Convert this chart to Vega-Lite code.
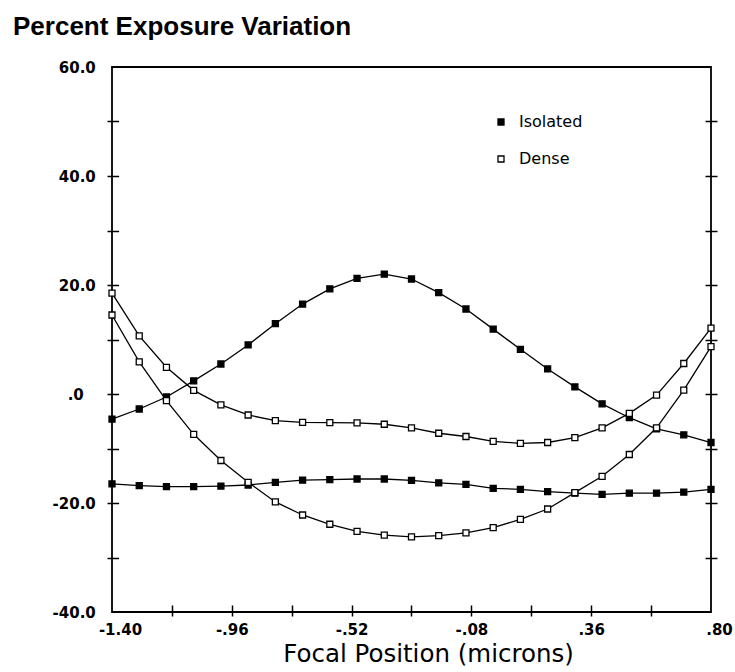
{
  "$schema": "https://vega.github.io/schema/vega-lite/v6.json",
  "width": 599,
  "height": 545,
  "autosize": {"type": "none"},
  "padding": {"left": 112, "top": 67, "right": 24, "bottom": 60},
  "background": "white",
  "title": {
    "text": "Percent Exposure Variation",
    "anchor": "start",
    "frame": "group",
    "dx": -99,
    "dy": 29,
    "offset": 28,
    "font": "Liberation Sans",
    "fontSize": 26,
    "fontWeight": "bold",
    "color": "black",
    "baseline": "alphabetic"
  },
  "config": {
    "view": {"stroke": "black", "strokeWidth": 1.8},
    "axis": {
      "domain": false,
      "grid": false,
      "tickColor": "black",
      "tickWidth": 1.5,
      "labelColor": "black",
      "labelFont": "DejaVu Sans",
      "labelFontSize": 15,
      "labelFontWeight": "bold",
      "titleColor": "black"
    }
  },
  "data": {
    "values": [
      {"x": -1.4, "y": -4.6, "series": "Isolated 1", "type": "Isolated"},
      {"x": -1.3, "y": -2.75, "series": "Isolated 1", "type": "Isolated"},
      {"x": -1.2, "y": -0.55, "series": "Isolated 1", "type": "Isolated"},
      {"x": -1.1, "y": 2.4, "series": "Isolated 1", "type": "Isolated"},
      {"x": -1.0, "y": 5.5, "series": "Isolated 1", "type": "Isolated"},
      {"x": -0.9, "y": 9.0, "series": "Isolated 1", "type": "Isolated"},
      {"x": -0.8, "y": 12.9, "series": "Isolated 1", "type": "Isolated"},
      {"x": -0.7, "y": 16.5, "series": "Isolated 1", "type": "Isolated"},
      {"x": -0.6, "y": 19.3, "series": "Isolated 1", "type": "Isolated"},
      {"x": -0.5, "y": 21.2, "series": "Isolated 1", "type": "Isolated"},
      {"x": -0.4, "y": 22.0, "series": "Isolated 1", "type": "Isolated"},
      {"x": -0.3, "y": 21.1, "series": "Isolated 1", "type": "Isolated"},
      {"x": -0.2, "y": 18.6, "series": "Isolated 1", "type": "Isolated"},
      {"x": -0.1, "y": 15.6, "series": "Isolated 1", "type": "Isolated"},
      {"x": 0.0, "y": 11.9, "series": "Isolated 1", "type": "Isolated"},
      {"x": 0.1, "y": 8.2, "series": "Isolated 1", "type": "Isolated"},
      {"x": 0.2, "y": 4.6, "series": "Isolated 1", "type": "Isolated"},
      {"x": 0.3, "y": 1.3, "series": "Isolated 1", "type": "Isolated"},
      {"x": 0.4, "y": -1.8, "series": "Isolated 1", "type": "Isolated"},
      {"x": 0.5, "y": -4.35, "series": "Isolated 1", "type": "Isolated"},
      {"x": 0.6, "y": -6.4, "series": "Isolated 1", "type": "Isolated"},
      {"x": 0.7, "y": -7.5, "series": "Isolated 1", "type": "Isolated"},
      {"x": 0.8, "y": -8.9, "series": "Isolated 1", "type": "Isolated"},
      {"x": -1.4, "y": -16.5, "series": "Isolated 2", "type": "Isolated"},
      {"x": -1.3, "y": -16.8, "series": "Isolated 2", "type": "Isolated"},
      {"x": -1.2, "y": -17.0, "series": "Isolated 2", "type": "Isolated"},
      {"x": -1.1, "y": -17.0, "series": "Isolated 2", "type": "Isolated"},
      {"x": -1.0, "y": -16.9, "series": "Isolated 2", "type": "Isolated"},
      {"x": -0.9, "y": -16.7, "series": "Isolated 2", "type": "Isolated"},
      {"x": -0.8, "y": -16.2, "series": "Isolated 2", "type": "Isolated"},
      {"x": -0.7, "y": -15.8, "series": "Isolated 2", "type": "Isolated"},
      {"x": -0.6, "y": -15.7, "series": "Isolated 2", "type": "Isolated"},
      {"x": -0.5, "y": -15.6, "series": "Isolated 2", "type": "Isolated"},
      {"x": -0.4, "y": -15.6, "series": "Isolated 2", "type": "Isolated"},
      {"x": -0.3, "y": -15.85, "series": "Isolated 2", "type": "Isolated"},
      {"x": -0.2, "y": -16.3, "series": "Isolated 2", "type": "Isolated"},
      {"x": -0.1, "y": -16.6, "series": "Isolated 2", "type": "Isolated"},
      {"x": 0.0, "y": -17.3, "series": "Isolated 2", "type": "Isolated"},
      {"x": 0.1, "y": -17.5, "series": "Isolated 2", "type": "Isolated"},
      {"x": 0.2, "y": -17.9, "series": "Isolated 2", "type": "Isolated"},
      {"x": 0.3, "y": -18.2, "series": "Isolated 2", "type": "Isolated"},
      {"x": 0.4, "y": -18.4, "series": "Isolated 2", "type": "Isolated"},
      {"x": 0.5, "y": -18.2, "series": "Isolated 2", "type": "Isolated"},
      {"x": 0.6, "y": -18.2, "series": "Isolated 2", "type": "Isolated"},
      {"x": 0.7, "y": -18.0, "series": "Isolated 2", "type": "Isolated"},
      {"x": 0.8, "y": -17.5, "series": "Isolated 2", "type": "Isolated"},
      {"x": -1.4, "y": 18.5, "series": "Dense 1", "type": "Dense"},
      {"x": -1.3, "y": 10.65, "series": "Dense 1", "type": "Dense"},
      {"x": -1.2, "y": 4.9, "series": "Dense 1", "type": "Dense"},
      {"x": -1.1, "y": 0.67, "series": "Dense 1", "type": "Dense"},
      {"x": -1.0, "y": -2.0, "series": "Dense 1", "type": "Dense"},
      {"x": -0.9, "y": -3.85, "series": "Dense 1", "type": "Dense"},
      {"x": -0.8, "y": -4.9, "series": "Dense 1", "type": "Dense"},
      {"x": -0.7, "y": -5.2, "series": "Dense 1", "type": "Dense"},
      {"x": -0.6, "y": -5.25, "series": "Dense 1", "type": "Dense"},
      {"x": -0.5, "y": -5.3, "series": "Dense 1", "type": "Dense"},
      {"x": -0.4, "y": -5.55, "series": "Dense 1", "type": "Dense"},
      {"x": -0.3, "y": -6.2, "series": "Dense 1", "type": "Dense"},
      {"x": -0.2, "y": -7.2, "series": "Dense 1", "type": "Dense"},
      {"x": -0.1, "y": -7.8, "series": "Dense 1", "type": "Dense"},
      {"x": 0.0, "y": -8.7, "series": "Dense 1", "type": "Dense"},
      {"x": 0.1, "y": -9.05, "series": "Dense 1", "type": "Dense"},
      {"x": 0.2, "y": -8.9, "series": "Dense 1", "type": "Dense"},
      {"x": 0.3, "y": -8.0, "series": "Dense 1", "type": "Dense"},
      {"x": 0.4, "y": -6.2, "series": "Dense 1", "type": "Dense"},
      {"x": 0.5, "y": -3.55, "series": "Dense 1", "type": "Dense"},
      {"x": 0.6, "y": -0.2, "series": "Dense 1", "type": "Dense"},
      {"x": 0.7, "y": 5.6, "series": "Dense 1", "type": "Dense"},
      {"x": 0.8, "y": 12.1, "series": "Dense 1", "type": "Dense"},
      {"x": -1.4, "y": 14.5, "series": "Dense 2", "type": "Dense"},
      {"x": -1.3, "y": 5.9, "series": "Dense 2", "type": "Dense"},
      {"x": -1.2, "y": -1.2, "series": "Dense 2", "type": "Dense"},
      {"x": -1.1, "y": -7.4, "series": "Dense 2", "type": "Dense"},
      {"x": -1.0, "y": -12.2, "series": "Dense 2", "type": "Dense"},
      {"x": -0.9, "y": -16.2, "series": "Dense 2", "type": "Dense"},
      {"x": -0.8, "y": -19.8, "series": "Dense 2", "type": "Dense"},
      {"x": -0.7, "y": -22.2, "series": "Dense 2", "type": "Dense"},
      {"x": -0.6, "y": -23.9, "series": "Dense 2", "type": "Dense"},
      {"x": -0.5, "y": -25.2, "series": "Dense 2", "type": "Dense"},
      {"x": -0.4, "y": -25.9, "series": "Dense 2", "type": "Dense"},
      {"x": -0.3, "y": -26.2, "series": "Dense 2", "type": "Dense"},
      {"x": -0.2, "y": -26.0, "series": "Dense 2", "type": "Dense"},
      {"x": -0.1, "y": -25.5, "series": "Dense 2", "type": "Dense"},
      {"x": 0.0, "y": -24.5, "series": "Dense 2", "type": "Dense"},
      {"x": 0.1, "y": -23.0, "series": "Dense 2", "type": "Dense"},
      {"x": 0.2, "y": -21.1, "series": "Dense 2", "type": "Dense"},
      {"x": 0.3, "y": -18.1, "series": "Dense 2", "type": "Dense"},
      {"x": 0.4, "y": -15.1, "series": "Dense 2", "type": "Dense"},
      {"x": 0.5, "y": -11.1, "series": "Dense 2", "type": "Dense"},
      {"x": 0.6, "y": -6.2, "series": "Dense 2", "type": "Dense"},
      {"x": 0.7, "y": 0.7, "series": "Dense 2", "type": "Dense"},
      {"x": 0.8, "y": 8.7, "series": "Dense 2", "type": "Dense"}
    ]
  },
  "encoding": {
    "x": {
      "field": "x",
      "type": "quantitative",
      "scale": {"domain": [-1.4, 0.8], "nice": false, "zero": false},
      "axis": {
        "orient": "bottom",
        "values": [-1.4, -1.18, -0.96, -0.74, -0.52, -0.3, -0.08, 0.14, 0.36, 0.58, 0.8],
        "offset": -7,
        "tickSize": 11,
        "labelPadding": 6,
        "labelFlush": false,
        "labelExpr": "indexof([-1.4, -0.96, -0.52, -0.08, 0.36, 0.8], datum.value) >= 0 ? replace(replace(format(datum.value, '.2f'), '\u2212', '-'), '0.', '.') : ''",
        "labelOffset": {"condition": {"test": "datum.value < -1.3 || datum.value > 0.7", "value": 8}, "value": 0},
        "tickOpacity": {"condition": {"test": "datum.value < -1.3 || datum.value > 0.7", "value": 0}, "value": 1},
        "title": "Focal Position (microns)",
        "titleFont": "DejaVu Sans",
        "titleFontSize": 24.5,
        "titleFontWeight": "normal",
        "titleX": 316,
        "titleY": 56,
        "titleAlign": "center",
        "titleBaseline": "alphabetic"
      }
    }
  },
  "layer": [
    {
      "mark": {"type": "line", "color": "black", "strokeWidth": 1.3},
      "encoding": {
        "y": {
          "field": "y",
          "type": "quantitative",
          "scale": {"domain": [-40, 60], "nice": false},
          "axis": {
            "orient": "left",
            "values": [-40, -30, -20, -10, 0, 10, 20, 30, 40, 50, 60],
            "offset": -6.6,
            "tickSize": 11.6,
            "labelPadding": {"condition": {"test": "datum.value == 0", "value": 23.7}, "value": 11.7},
            "labelExpr": "datum.value % 20 == 0 ? (datum.value == 0 ? '.0' : replace(format(datum.value, '.1f'), '\u2212', '-')) : ''",
            "tickOpacity": {"condition": {"test": "datum.value == 60 || datum.value == -40", "value": 0}, "value": 1},
            "title": null
          }
        },
        "detail": {"field": "series"}
      }
    },
    {
      "mark": {"type": "point", "shape": "square", "size": 36, "filled": true, "stroke": "black", "strokeWidth": 1.3, "opacity": 1},
      "encoding": {
        "y": {
          "field": "y",
          "type": "quantitative",
          "scale": {"domain": [-40, 60], "nice": false},
          "axis": {
            "orient": "right",
            "values": [-30, -20, -10, 0, 10, 20, 30, 40, 50],
            "offset": -6,
            "tickSize": 12,
            "labels": false,
            "title": null
          }
        },
        "fill": {
          "field": "type",
          "type": "nominal",
          "scale": {"domain": ["Isolated", "Dense"], "range": ["black", "white"]},
          "legend": {
            "title": null,
            "orient": "none",
            "legendX": 381,
            "legendY": 47,
            "direction": "vertical",
            "symbolType": "square",
            "symbolSize": 36,
            "symbolStrokeColor": "black",
            "symbolStrokeWidth": 1.3,
            "labelFont": "DejaVu Sans",
            "labelFontSize": 16,
            "labelColor": "black",
            "labelOffset": 10,
            "rowPadding": 21,
            "padding": 0
          }
        }
      }
    }
  ],
  "resolve": {"axis": {"y": "independent"}}
}
